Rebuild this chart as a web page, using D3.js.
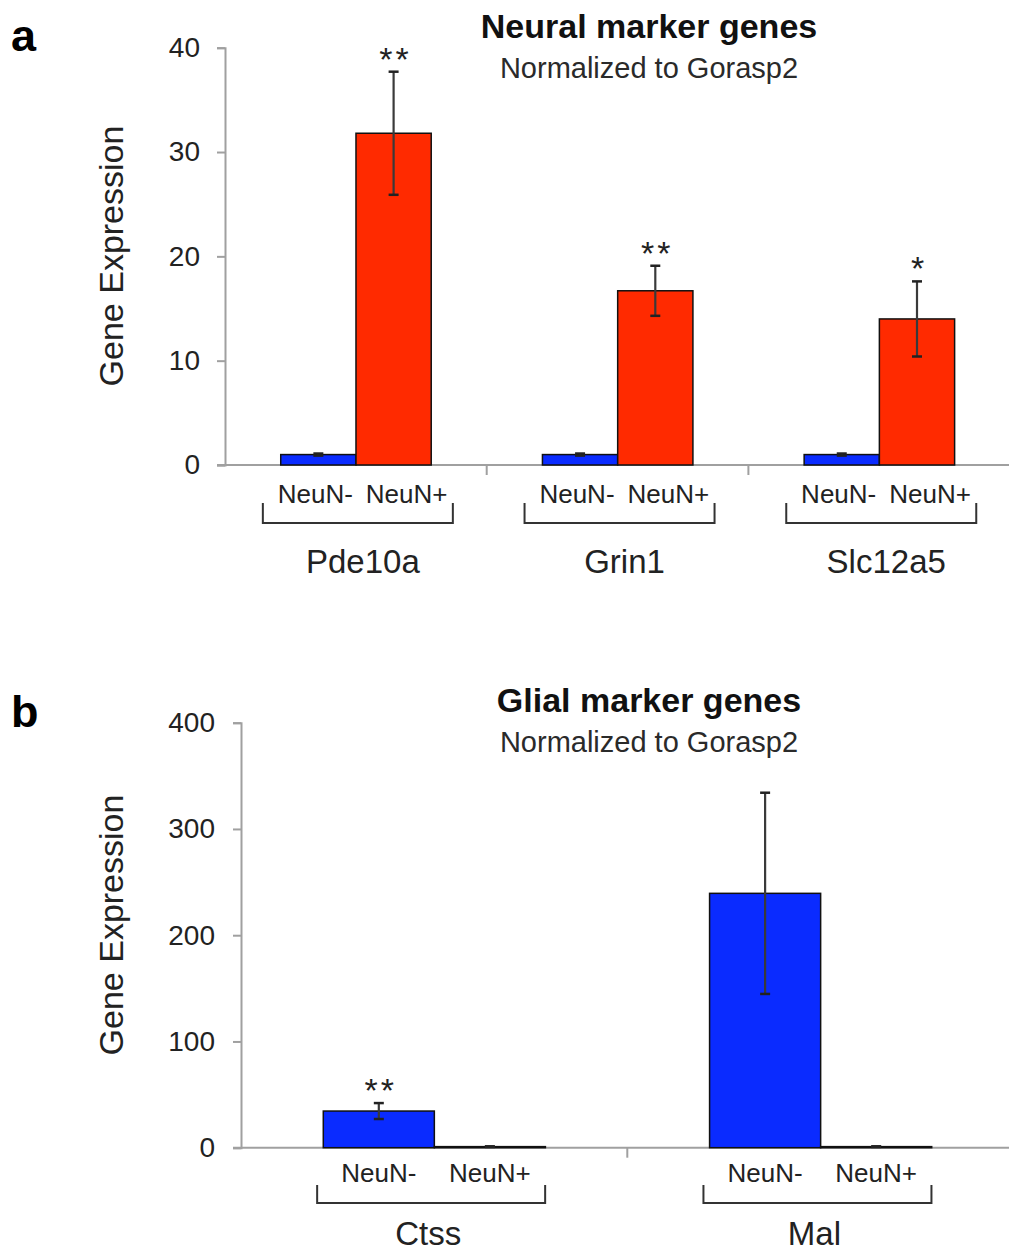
<!DOCTYPE html>
<html><head><meta charset="utf-8">
<script src="https://cdn.jsdelivr.net/npm/d3@7"></script>
<style>body{margin:0;background:#fff}svg{display:block}text{font-family:"Liberation Sans",Arial,sans-serif}</style>
</head><body>
<svg id="c" width="1009" height="1253"></svg>
<script>
// ---- data ----
const groups = ["NeuN-", "NeuN+"];

const neuralGenes = ["Pde10a", "Grin1", "Slc12a5"];
const neuralNeg = [1, 1, 1];
const neuralNegErr = [0.1, 0.1, 0.1];
const neuralPos = [31.8, 16.7, 14.0];
const neuralPosErr = [5.9, 2.4, 3.6];
const neuralSigNeg = ["", "", ""];
const neuralSigPos = ["**", "**", "*"];
const neuralTicks = [0, 10, 20, 30, 40];

const glialGenes = ["Ctss", "Mal"];
const glialNeg = [34.5, 239.4];
const glialNegErr = [7.5, 94.7];
const glialPos = [1, 1];
const glialPosErr = [0.3, 0.3];
const glialSigNeg = ["**", ""];
const glialSigPos = ["", ""];
const glialTicks = [0, 100, 200, 300, 400];

const colors = {"NeuN-": "#0a2bff", "NeuN+": "#ff2a00"};

const svg = d3.select("#c");

function panel(o) {
  const g = svg.append("g");
  const y = d3.scaleLinear().domain([0, d3.max(o.ticks)]).range([o.y0, o.y1]);
  const x0 = d3.scaleBand().domain(o.genes).range([o.ax, o.ax + o.band * o.genes.length]);
  const x1 = d3.scaleBand().domain(groups).range([o.band * 0.213, o.band * 0.788]);

  // letter
  g.append("text").attr("x", 11).attr("y", o.letterY).attr("font-size", 45).attr("font-weight", "bold").text(o.letter);
  // titles
  g.append("text").attr("x", 649).attr("y", o.titleY).attr("text-anchor", "middle").attr("font-size", 34).attr("font-weight", "bold").attr("fill", "#111").text(o.title);
  g.append("text").attr("x", 649).attr("y", o.titleY + 40).attr("text-anchor", "middle").attr("font-size", 29).attr("fill", "#2a2a2a").text("Normalized to Gorasp2");

  // y axis
  const yAxis = d3.axisLeft(y).tickValues(o.ticks).tickSize(8).tickPadding(o.tickPad).tickFormat(d3.format("d"));
  const ya = g.append("g").attr("transform", `translate(${o.ax},0)`).call(yAxis);
  ya.select(".domain").attr("stroke", "#a0a0a0").attr("stroke-width", 2);
  ya.selectAll(".tick line").attr("stroke", "#a0a0a0").attr("stroke-width", 2);
  ya.selectAll(".tick text").attr("font-size", 28).attr("fill", "#222").attr("font-family", "Liberation Sans, Arial, sans-serif");

  // x axis line
  g.append("line").attr("x1", o.ax - 8).attr("x2", 1009).attr("y1", y(0)).attr("y2", y(0)).attr("stroke", "#a0a0a0").attr("stroke-width", 2);
  // separators
  o.genes.slice(1).forEach(gn => {
    g.append("line").attr("x1", x0(gn)).attr("x2", x0(gn)).attr("y1", y(0)).attr("y2", y(0) + 10).attr("stroke", "#a0a0a0").attr("stroke-width", 2);
  });

  // y label
  g.append("text").attr("transform", `translate(${o.labX},${o.labY}) rotate(-90)`).attr("text-anchor", "middle").attr("font-size", 34).attr("fill", "#222").text("Gene Expression");

  const rows = [];
  o.genes.forEach((gn, i) => {
    rows.push({gene: gn, grp: "NeuN-", v: o.neg[i], e: o.negErr[i], s: o.sigNeg[i]});
    rows.push({gene: gn, grp: "NeuN+", v: o.pos[i], e: o.posErr[i], s: o.sigPos[i]});
  });

  const bw = x1.bandwidth();
  rows.forEach(r => {
    const bx = x0(r.gene) + x1(r.grp);
    g.append("rect").attr("x", bx).attr("y", y(r.v)).attr("width", bw).attr("height", y(0) - y(r.v))
      .attr("fill", colors[r.grp]).attr("stroke", "#111").attr("stroke-width", 1.5);
  });
  rows.forEach(r => {
    const cx = x0(r.gene) + x1(r.grp) + bw / 2;
    const top = y(r.v + r.e), bot = y(r.v - r.e);
    g.append("line").attr("x1", cx).attr("x2", cx).attr("y1", top).attr("y2", bot).attr("stroke", "#3a3a3a").attr("stroke-width", 2.2);
    [top, bot].forEach(yy => g.append("line").attr("x1", cx - 5).attr("x2", cx + 5).attr("y1", yy).attr("y2", yy).attr("stroke", "#222").attr("stroke-width", 2.5));
    if (r.s) {
      g.append("text").attr("x", cx + 2).attr("y", top - 1).attr("text-anchor", "middle").attr("font-size", 34).attr("letter-spacing", 3).attr("fill", "#222").text(r.s);
    }
  });

  // group labels & brackets
  o.genes.forEach(gn => {
    const gc = x0(gn) + o.band / 2;
    if (o.labelMode === "tight") {
      g.append("text").attr("x", gc - 3).attr("y", o.grpLabY).attr("text-anchor", "end").attr("font-size", 26).attr("fill", "#222").text(groups[0]);
      g.append("text").attr("x", gc + 10).attr("y", o.grpLabY).attr("text-anchor", "start").attr("font-size", 26).attr("fill", "#222").text(groups[1]);
    } else {
      groups.forEach(gr => {
        g.append("text").attr("x", x0(gn) + x1(gr) + bw / 2).attr("y", o.grpLabY).attr("text-anchor", "middle").attr("font-size", 26).attr("fill", "#222").text(gr);
      });
    }
    const bc = gc + o.brOff, hw = o.brHalf;
    g.append("path").attr("d", `M${bc - hw},${o.brY0} V${o.brY1} H${bc + hw} V${o.brY0}`)
      .attr("fill", "none").attr("stroke", "#333").attr("stroke-width", 2);
    g.append("text").attr("x", bc + o.geneOff).attr("y", o.geneY).attr("text-anchor", "middle").attr("font-size", 33).attr("fill", "#222").text(gn);
  });
}

panel({
  letter: "a", letterY: 51, title: "Neural marker genes", titleY: 38,
  genes: neuralGenes, neg: neuralNeg, negErr: neuralNegErr, pos: neuralPos, posErr: neuralPosErr,
  sigNeg: neuralSigNeg, sigPos: neuralSigPos, ticks: neuralTicks,
  ax: 225, band: 261.7, y0: 465, y1: 47.7, tickPad: 17,
  labX: 123, labY: 256, labelMode: "tight", grpLabY: 503,
  brOff: 2, brHalf: 95, brY0: 503, brY1: 523, geneY: 573, geneOff: 5
});

panel({
  letter: "b", letterY: 727, title: "Glial marker genes", titleY: 712,
  genes: glialGenes, neg: glialNeg, negErr: glialNegErr, pos: glialPos, posErr: glialPosErr,
  sigNeg: glialSigNeg, sigPos: glialSigPos, ticks: glialTicks,
  ax: 241, band: 386.3, y0: 1147.7, y1: 722.7, tickPad: 18,
  labX: 123, labY: 925, labelMode: "bars", grpLabY: 1182,
  brOff: -3, brHalf: 114, brY0: 1185, brY1: 1203, geneY: 1245, geneOff: -3
});
</script>
</body></html>
